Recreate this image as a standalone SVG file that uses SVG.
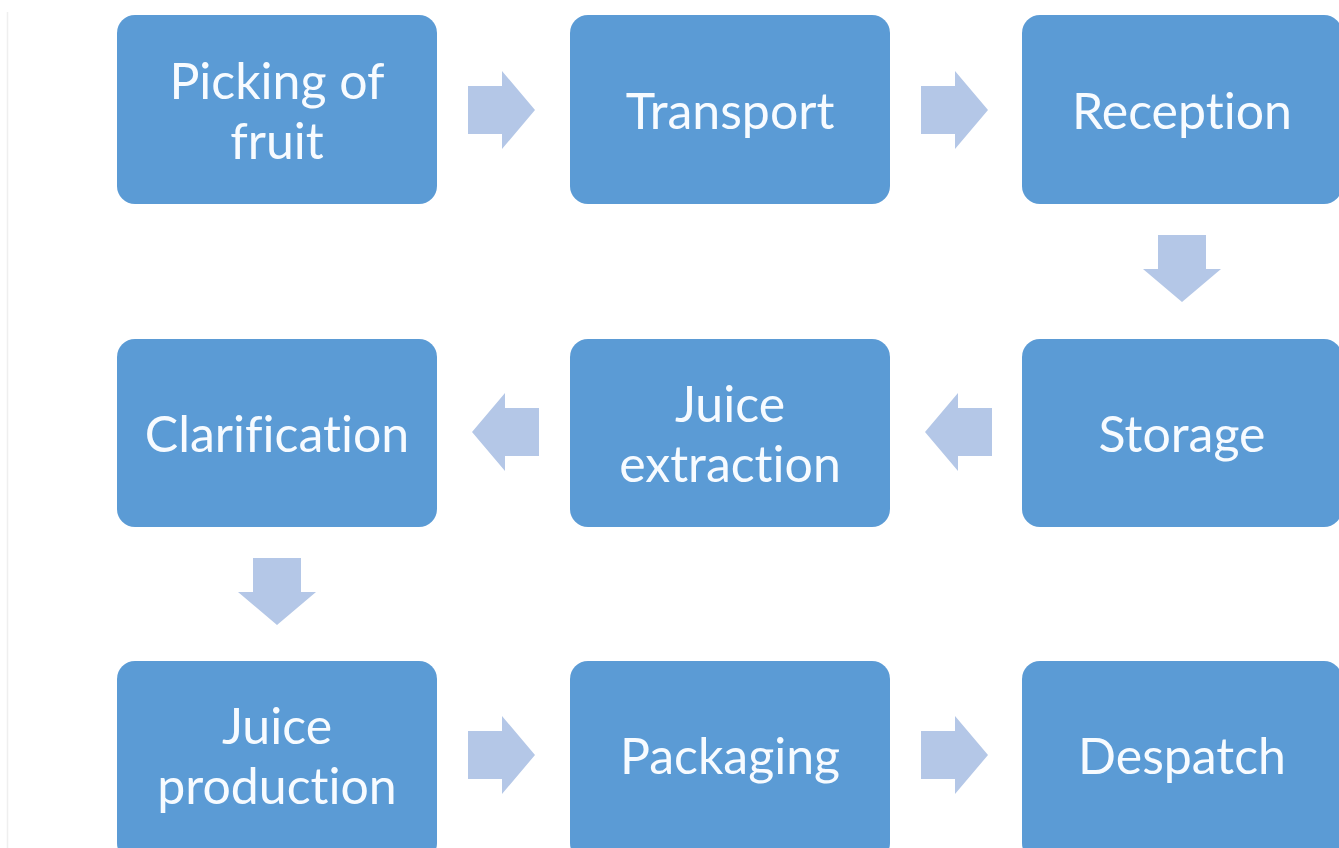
<svg xmlns="http://www.w3.org/2000/svg" width="1339" height="848" viewBox="0 0 1339 848">
<defs>
<style>
.box{fill:#5B9BD5;}
.lbl{fill:#F7FBFF;font-family:Lato,"Open Sans","Liberation Sans",sans-serif;font-size:50px;text-anchor:middle;font-variant-ligatures:none;font-feature-settings:"liga" 0,"clig" 0;}
.arr{fill:#B4C7E7;}
</style>
<path id="ar" d="M0,-24 H34 V-39 L67,0 L34,39 V24 H0 Z"/>
</defs>
<rect width="1339" height="848" fill="#FFFFFF"/>
<line x1="7.5" y1="12" x2="7.5" y2="848" stroke="#EFEFEF" stroke-width="1.5"/>
<g id="connectors" class="arr">
<use href="#ar" transform="translate(468,110)"/>
<use href="#ar" transform="translate(921,110)"/>
<use href="#ar" transform="translate(1182,235) rotate(90)"/>
<use href="#ar" transform="translate(992,432) rotate(180)"/>
<use href="#ar" transform="translate(539,432) rotate(180)"/>
<use href="#ar" transform="translate(277,558) rotate(90)"/>
<use href="#ar" transform="translate(468,755)"/>
<use href="#ar" transform="translate(921,755)"/>
</g>
<g id="n1"><rect class="box" x="117" y="15" width="320" height="189" rx="18"/><text class="lbl" x="277" y="99">Picking of</text><text class="lbl" x="277" y="159">fruit</text></g>
<g id="n2"><rect class="box" x="570" y="15" width="320" height="189" rx="18"/><text class="lbl" x="730" y="129">Transport</text></g>
<g id="n3"><rect class="box" x="1022" y="15" width="320" height="189" rx="18"/><text class="lbl" x="1182" y="129">Reception</text></g>
<g id="n4"><rect class="box" x="1022" y="339" width="320" height="188" rx="18"/><text class="lbl" x="1182" y="452">Storage</text></g>
<g id="n5"><rect class="box" x="570" y="339" width="320" height="188" rx="18"/><text class="lbl" x="730" y="422">Juice</text><text class="lbl" x="730" y="482">extraction</text></g>
<g id="n6"><rect class="box" x="117" y="339" width="320" height="188" rx="18"/><text class="lbl" x="277" y="452">Clarification</text></g>
<g id="n7"><rect class="box" x="117" y="661" width="320" height="200" rx="18"/><text class="lbl" x="277" y="744">Juice</text><text class="lbl" x="277" y="804">production</text></g>
<g id="n8"><rect class="box" x="570" y="661" width="320" height="200" rx="18"/><text class="lbl" x="730" y="774">Packaging</text></g>
<g id="n9"><rect class="box" x="1022" y="661" width="320" height="200" rx="18"/><text class="lbl" x="1182" y="774">Despatch</text></g>
</svg>
